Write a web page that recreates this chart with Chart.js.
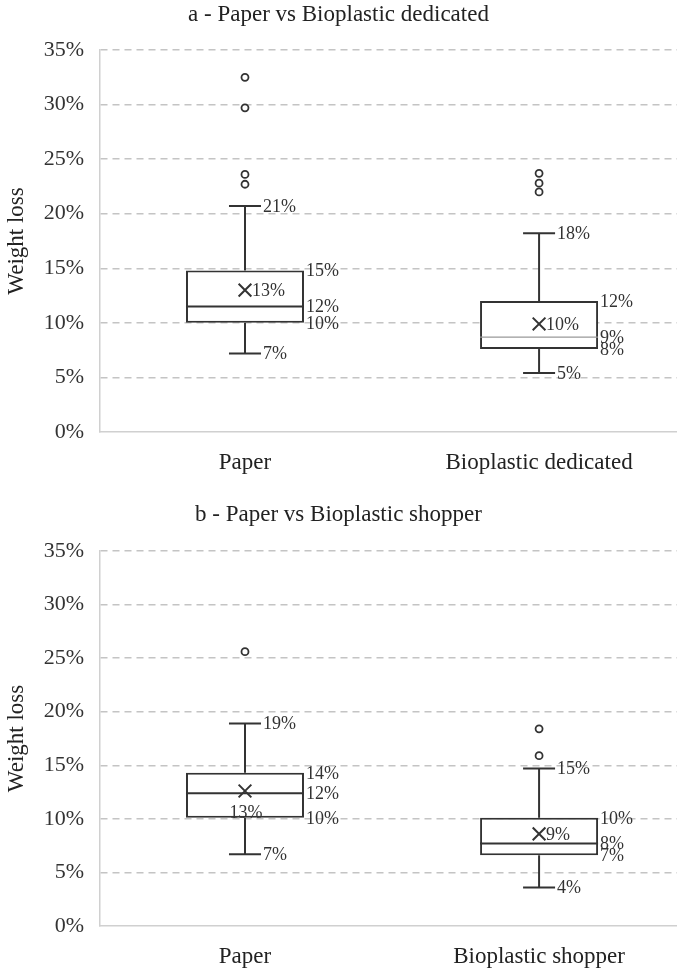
<!DOCTYPE html>
<html>
<head>
<meta charset="utf-8">
<script src="https://cdn.jsdelivr.net/npm/chart.js@4.4.0/dist/chart.umd.min.js"></script>
<style>
  body { margin: 0; background: #fff; }
  #wrap { position: relative; width: 677px; height: 973px; }
  canvas { position: absolute; left: 0; }
  #chartA { top: 0; }
  #chartB { top: 485px; }
</style>
</head>
<body>
<div id="wrap">
  <canvas id="chartA" width="677" height="485"></canvas>
  <canvas id="chartB" width="677" height="488"></canvas>
</div>
<script>
// values in % weight loss
const yTicks = [0, 5, 10, 15, 20, 25, 30, 35];

// a - Paper vs Bioplastic dedicated
const categoriesA = ['Paper', 'Bioplastic dedicated'];
const lowA = [7.2, 5.4];
const q1A = [10.0, 7.6];
const medianA = [11.5, 8.7];
const q3A = [14.8, 12.0];
const highA = [20.7, 18.2];
const meanA = [13.0, 9.9];
const outliersA = [[32.5, 29.7, 23.6, 22.7], [23.7, 22.8, 22.0]];

// b - Paper vs Bioplastic shopper
const categoriesB = ['Paper', 'Bioplastic shopper'];
const lowB = [6.7, 3.6];
const q1B = [10.1, 6.6];
const medianB = [12.4, 7.7];
const q3B = [14.3, 10.1];
const highB = [18.9, 14.7];
const meanB = [12.6, 8.6];
const outliersB = [[25.6], [18.4, 15.9]];

const SERIF = '"Liberation Serif", "Times New Roman", serif';
const INK = '#333';

// value labels beside boxes and whiskers
const valueLabels = {
  id: 'valueLabels',
  afterDatasetsDraw(chart, args, opts) {
    const { ctx, scales: { x, y } } = chart;
    const s = opts.stats;
    ctx.save();
    ctx.font = '18px ' + SERIF;
    ctx.fillStyle = INK;
    ctx.textBaseline = 'middle';
    s.categories.forEach((c, i) => {
      const cx = x.getPixelForValue(i + 1);
      const put = (v, dx, dy, align) => {
        ctx.textAlign = align || 'left';
        ctx.fillText(Math.round(v) + '%', cx + dx, y.getPixelForValue(v) + (dy || 1));
      };
      put(s.low[i], 18);
      put(s.high[i], 18);
      put(s.q1[i], 61);
      put(s.median[i], 61);
      put(s.q3[i], 61);
      if (opts.meanBelow[i]) put(s.mean[i], 1, 22, 'center');
      else put(s.mean[i], 7);
    });
    ctx.restore();
  }
};

function makeChart(id, title, s, layout) {
  const at = arr => arr.map((v, i) => ({ x: i + 1, y: v }));
  const outlierPts = [];
  s.outliers.forEach((list, i) => list.forEach(v => outlierPts.push({ x: i + 1, y: v })));

  return new Chart(document.getElementById(id), {
    data: {
      datasets: [
        {
          type: 'bar', order: 5, grouped: false,
          data: s.categories.map((c, i) => ({ x: i + 1, y: [s.q1[i], s.q3[i]] })),
          backgroundColor: '#fff', borderColor: INK, borderWidth: 2,
          borderSkipped: false, maxBarThickness: 118
        },
        {
          type: 'bar', order: 6, grouped: false,
          data: s.categories.map((c, i) => ({ x: i + 1, y: [s.low[i], s.q1[i]] })),
          backgroundColor: INK, borderWidth: 0, maxBarThickness: 2
        },
        {
          type: 'bar', order: 6, grouped: false,
          data: s.categories.map((c, i) => ({ x: i + 1, y: [s.q3[i], s.high[i]] })),
          backgroundColor: INK, borderWidth: 0, maxBarThickness: 2
        },
        {
          type: 'scatter', order: 3, data: at(s.low).concat(at(s.high)),
          pointStyle: 'line', pointRadius: 16, borderColor: INK, borderWidth: 2
        },
        {
          type: 'scatter', order: 2, data: at(s.median),
          pointStyle: 'line', pointRadius: 59,
          borderColor: layout.medianColor, borderWidth: layout.medianWidth
        },
        {
          type: 'scatter', order: 1, data: at(s.mean),
          pointStyle: 'crossRot', pointRadius: 9, borderColor: INK, borderWidth: 2
        },
        {
          type: 'scatter', order: 1, data: outlierPts,
          pointStyle: 'circle', pointRadius: 3.5, borderColor: INK, borderWidth: 1.8,
          backgroundColor: '#fff'
        }
      ]
    },
    options: {
      responsive: false,
      animation: false,
      events: [],
      layout: { padding: 0, autoPadding: false },
      plugins: {
        legend: { display: false },
        tooltip: { enabled: false },
        title: {
          display: true, text: title, color: '#222',
          font: { family: SERIF, size: 23, weight: 'normal' },
          padding: layout.titlePadding
        },
        valueLabels: { stats: s, meanBelow: layout.meanBelow }
      },
      scales: {
        x: {
          type: 'linear', min: 0.507, max: 2.469, offset: false,
          afterBuildTicks: sc => { sc.ticks = [{ value: 1 }, { value: 2 }]; },
          afterFit: sc => { sc.height = layout.xHeight; sc.paddingLeft = 0; sc.paddingRight = 0; },
          grid: { display: false, drawTicks: false },
          border: { display: true, color: '#d0d0d0', width: 1.5 },
          ticks: {
            padding: 17, color: '#222', maxRotation: 0, autoSkip: false,
            font: { family: SERIF, size: 23 },
            callback: v => s.categories[v - 1]
          }
        },
        y: {
          min: 0, max: 35,
          afterBuildTicks: sc => { sc.ticks = yTicks.map(v => ({ value: v })); },
          afterFit: sc => { sc.width = 100; },
          grid: {
            color: c => (c.tick && c.tick.value === 0) ? 'rgba(0,0,0,0)' : '#c4c4c4',
            lineWidth: 1.5, drawTicks: false
          },
          border: { display: true, color: '#d0d0d0', width: 1.5, dash: [7, 5] },
          ticks: {
            padding: 16, color: INK,
            font: { family: SERIF, size: 22 },
            callback: v => v + '%'
          },
          title: {
            display: true, text: 'Weight loss', color: '#222',
            font: { family: SERIF, size: 23 },
            padding: { top: 3, bottom: 0 }
          }
        }
      }
    },
    plugins: [valueLabels]
  });
}

makeChart('chartA', 'a - Paper vs Bioplastic dedicated', {
  categories: categoriesA, low: lowA, q1: q1A, median: medianA,
  q3: q3A, high: highA, mean: meanA, outliers: outliersA
}, {
  titlePadding: { top: 1.2, bottom: 21.2 }, xHeight: 53,
  medianColor: [INK, '#999'], medianWidth: [2, 1.2], meanBelow: [false, false]
});

makeChart('chartB', 'b - Paper vs Bioplastic shopper', {
  categories: categoriesB, low: lowB, q1: q1B, median: medianB,
  q3: q3B, high: highB, mean: meanB, outliers: outliersB
}, {
  titlePadding: { top: 16.2, bottom: 22.2 }, xHeight: 47,
  medianColor: INK, medianWidth: 2, meanBelow: [true, false]
});
</script>
</body>
</html>
